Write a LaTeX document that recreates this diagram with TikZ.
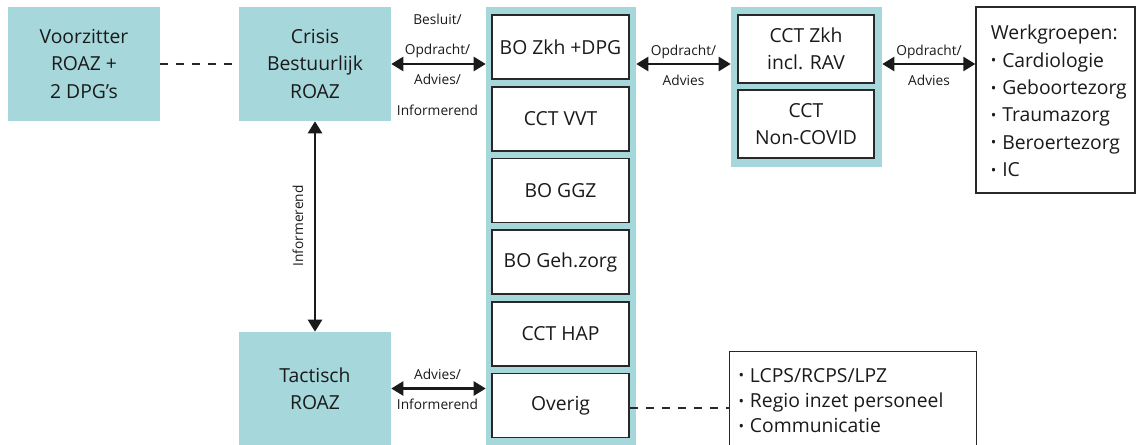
\documentclass[tikz,border=0pt]{standalone}
\usepackage{fontspec}
\setmainfont{Open Sans}
\usetikzlibrary{arrows.meta}
\definecolor{teal}{RGB}{166,215,219}
\definecolor{ink}{RGB}{26,26,26}
\definecolor{edge}{RGB}{40,40,40}
\tikzset{
  mainfont/.style={font=\fontsize{14.5}{20.5}\selectfont, text=ink},
  smallfont/.style={font=\fontsize{10.3}{22.7}\selectfont, text=ink},
  tealbox/.style={fill=teal, draw=none, inner sep=0pt, align=center, mainfont},
  whitebox/.style={fill=white, draw=edge, line width=1.2pt, inner sep=0pt, align=center, mainfont},
  listbox/.style={fill=white, draw=edge, line width=1pt, inner sep=0pt},
  listtext/.style={anchor=west, align=left, inner sep=0pt, mainfont},
  biarrow/.style={{Triangle[length=9pt,width=10.5pt]}-{Triangle[length=9pt,width=10.5pt]}, line width=1.8pt, ink},
  dashline/.style={dash pattern=on 6pt off 6pt, line width=1.3pt, edge},
  lbl/.style={smallfont, align=center, inner sep=0pt}
}
\newcommand{\bul}{{\fontsize{11}{11}\selectfont\raisebox{0.2ex}{•}}\hspace{0.3em}}
\begin{document}
\begin{tikzpicture}[x=0.75pt,y=-0.75pt]
\useasboundingbox (0,0) rectangle (1137,445);
% left column
\node[tealbox, minimum width=114pt, minimum height=85.5pt] (voor) at (84,64) {Voorzitter\\ROAZ +\\2 DPG’s};
\node[tealbox, minimum width=114pt, minimum height=85.5pt] (crisis) at (315,64) {Crisis\\Bestuurlijk\\ROAZ};
\node[tealbox, minimum width=114pt, minimum height=84.75pt] (tact) at (315,388.5) {Tactisch\\ROAZ};
% middle column
\node[tealbox, minimum width=112.5pt, minimum height=330pt] (mid) at (561,227) {};
\node[whitebox, minimum width=102.75pt, minimum height=48pt] (bozkh) at (560.5,47) {BO Zkh +DPG};
\node[whitebox, minimum width=102.75pt, minimum height=48pt] (vvt) at (560.5,119) {CCT VVT};
\node[whitebox, minimum width=102.75pt, minimum height=48pt] (ggz) at (560.5,190.5) {BO GGZ};
\node[whitebox, minimum width=102.75pt, minimum height=48pt] (geh) at (560.5,262) {BO Geh.zorg};
\node[whitebox, minimum width=102.75pt, minimum height=48pt] (hap) at (560.5,334) {CCT HAP};
\node[whitebox, minimum width=102.75pt, minimum height=48pt] (overig) at (560.5,405.5) {Overig};
% right column
\node[tealbox, minimum width=113.25pt, minimum height=120pt] (right) at (806.5,87) {};
\node[whitebox, minimum width=102pt, minimum height=51pt] (cctzkh) at (806,49) {CCT Zkh\\incl. RAV};
\node[whitebox, minimum width=102pt, minimum height=51pt] (noncovid) at (806,124) {CCT\\Non-COVID};
% werkgroepen
\node[listbox, minimum width=119.25pt, minimum height=139.5pt] (wg) at (1055.5,100) {};
\node[listtext] (wgtext) at ([xshift=11.5pt,yshift=-0.8pt]wg.west) {Werkgroepen:\\\bul Cardiologie\\\bul Geboortezorg\\\bul Traumazorg\\\bul Beroertezorg\\\bul IC};
% lcps box (open at bottom)
\node[inner sep=0pt, minimum width=184.5pt, minimum height=72pt] (lcps) at (853,400) {};
\draw[edge, line width=1pt] (lcps.south west) -- (lcps.north west) -- (lcps.north east) -- (lcps.south east);
\node[listtext, font=\fontsize{14.5}{19}\selectfont] (lcpstext) at ([xshift=6.5pt,yshift=-0.5pt]lcps.west) {\bul LCPS/RCPS/LPZ\\\bul Regio inzet personeel\\\bul Communicatie};
% connectors
\draw[dashline] (voor.east) -- (crisis.west);
\draw[biarrow] (crisis.east) -- (crisis.east -| mid.west);
\node[lbl] (l1) at (437.5,64.5) {Besluit/\\Opdracht/\\Advies/\\Informerend};
\draw[biarrow] (crisis.east -| mid.east) -- (crisis.east -| right.west);
\node[lbl] (l2) at (683.5,65) {Opdracht/\\Advies};
\draw[biarrow] (crisis.east -| right.east) -- (crisis.east -| wg.west);
\node[lbl] (l3) at (929,65) {Opdracht/\\Advies};
\draw[biarrow] (crisis.south) -- (tact.north);
\node[lbl, rotate=90] (l4) at (298,226) {Informerend};
\draw[biarrow] (tact.east) -- (tact.east -| mid.west);
\node[lbl] (l5) at (437.5,389.5) {Advies/\\Informerend};
\draw[dashline] ([yshift=-2pt]overig.east) -- ([yshift=-2pt]overig.east -| lcps.west);
\end{tikzpicture}
\end{document}
